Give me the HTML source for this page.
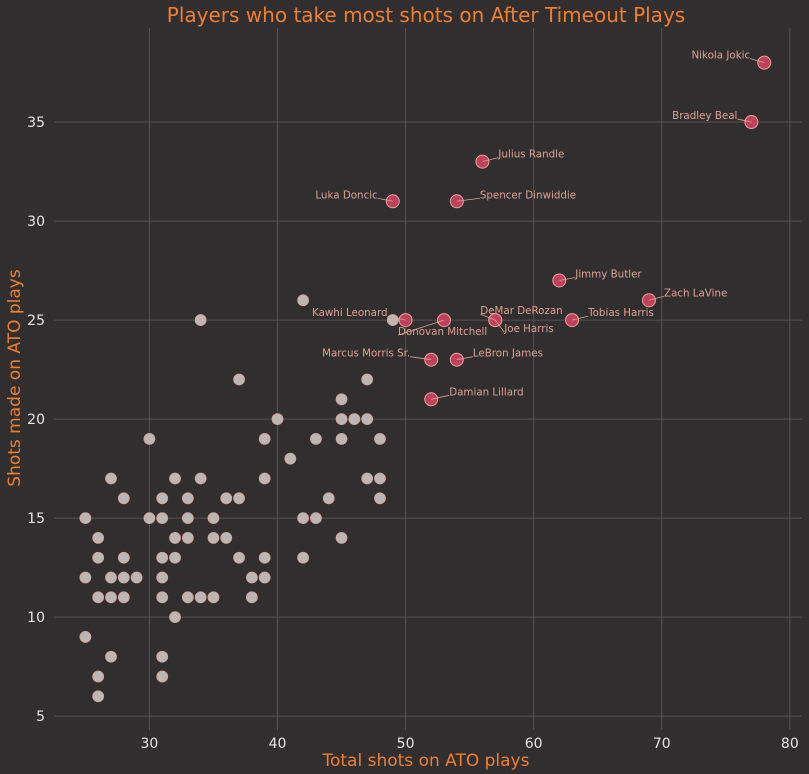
<!DOCTYPE html>
<html><head><meta charset="utf-8"><style>
body{margin:0;background:#302e2f;}
svg{display:block;font-family:"DejaVu Sans","Liberation Sans",sans-serif;}
</style></head><body>
<svg id="chart" width="809" height="774">
<rect x="0" y="0" width="809" height="774" fill="#302e2f"/>
<text x="426" y="22" text-anchor="middle" font-size="20" fill="#f07f2e">Players who take most shots on After Timeout Plays</text>
<text x="426" y="766" text-anchor="middle" font-size="17" fill="#f07f2e">Total shots on ATO plays</text>
<text transform="translate(20,378) rotate(-90)" text-anchor="middle" font-size="17" fill="#f07f2e">Shots made on ATO plays</text>
<g id="grid"></g><g id="pts"></g><g id="labels"></g>
</svg>
<script>
const xTicks=[30,40,50,60,70,80];
const yTicks=[5,10,15,20,25,30,35];
const otherX=[25,25,25,26,26,26,26,26,27,27,27,27,28,28,28,28,29,30,30,31,31,31,31,31,31,31,32,32,32,32,33,33,33,33,34,34,34,35,35,35,36,36,37,37,37,38,38,39,39,39,39,40,41,42,42,42,43,43,44,45,45,45,45,46,47,47,47,48,48,48,49];
const otherY=[15,12,9,14,13,11,7,6,17,12,11,8,16,13,12,11,12,19,15,16,15,13,12,11,8,7,17,14,13,10,16,15,14,11,25,17,11,15,14,11,16,14,22,16,13,12,11,19,17,13,12,20,18,26,15,13,19,15,16,21,20,19,14,20,22,20,17,19,17,16,25];
const names=["Nikola Jokic","Bradley Beal","Julius Randle","Luka Doncic","Spencer Dinwiddie","Jimmy Butler","Zach LaVine","Kawhi Leonard","Donovan Mitchell","DeMar DeRozan","Joe Harris","Tobias Harris","Marcus Morris Sr.","LeBron James","Damian Lillard"];
const topX=[78,77,56,49,54,62,69,50,53,57,57,63,52,54,52];
const topY=[38,35,33,31,31,27,26,25,25,25,25,25,23,23,21];
const labelDx=[-14,-14,16,-15,23,16,15,-18,-46,-15,9,16,-21,16,18];
const labelDy=[-8,-7,-8,-7,-7,-7,-8,-8,11,-10,8,-8,-7,-7,-8];
const labelAnchor=["end","end","start","end","start","start","start","end","start","start","start","start","end","start","start"];
const L=54,R=802,T=28,B=730,X0=22.55,X1=80.95,Y0=4.3,Y1=39.75;
const sx=v=>L+(v-X0)/(X1-X0)*(R-L);
const sy=v=>B-(v-Y0)/(Y1-Y0)*(B-T);
const NS="http://www.w3.org/2000/svg";
function mk(tag,attrs,parent){const e=document.createElementNS(NS,tag);for(const k in attrs)e.setAttribute(k,attrs[k]);parent.appendChild(e);return e;}
const g=document.getElementById('grid'),p=document.getElementById('pts'),lb=document.getElementById('labels');
xTicks.forEach(t=>{
 const l=mk('line',{x1:sx(t),x2:sx(t),y1:T,y2:B,stroke:'#545253','stroke-width':1},g);
 
 
 const tx=mk('text',{x:sx(t),y:748,'text-anchor':'middle','font-size':14,fill:'#e6e6e6'},g);
 tx.textContent=t;
 
 
});
yTicks.forEach(t=>{
 const l=mk('line',{x1:L,x2:R,y1:sy(t),y2:sy(t),stroke:'#545253','stroke-width':1},g);
 
 
 const tx=mk('text',{x:45,y:sy(t)+5,'text-anchor':'end','font-size':14,fill:'#e6e6e6'},g);
 tx.textContent=t;
 
 
});
otherX.forEach((v,i)=>{
 const c=mk('circle',{cx:sx(v),cy:sy(otherY[i]),r:5.5,fill:'#bdb6b6',stroke:'#d9a090','stroke-width':0.8},p);
 
 
});
topX.forEach((v,i)=>{
 const cx=sx(v),cy=sy(topY[i]);
 const tx=cx+labelDx[i],ty=cy+labelDy[i];
 const ln=mk('line',{x1:cx,y1:cy,x2:tx,y2:ty+4,stroke:'#e0a08f','stroke-width':0.8},lb);
 
 
 const c=mk('circle',{cx:cx,cy:cy,r:6.5,fill:'#c0415e',stroke:'#e8a58f','stroke-width':1},p);
 
 
 const t=mk('text',{x:tx,y:ty+4,'text-anchor':labelAnchor[i],'font-size':10.3,fill:'#e0a08f'},lb);
 t.textContent=names[i];
 
 
});
</script>
</body></html>
